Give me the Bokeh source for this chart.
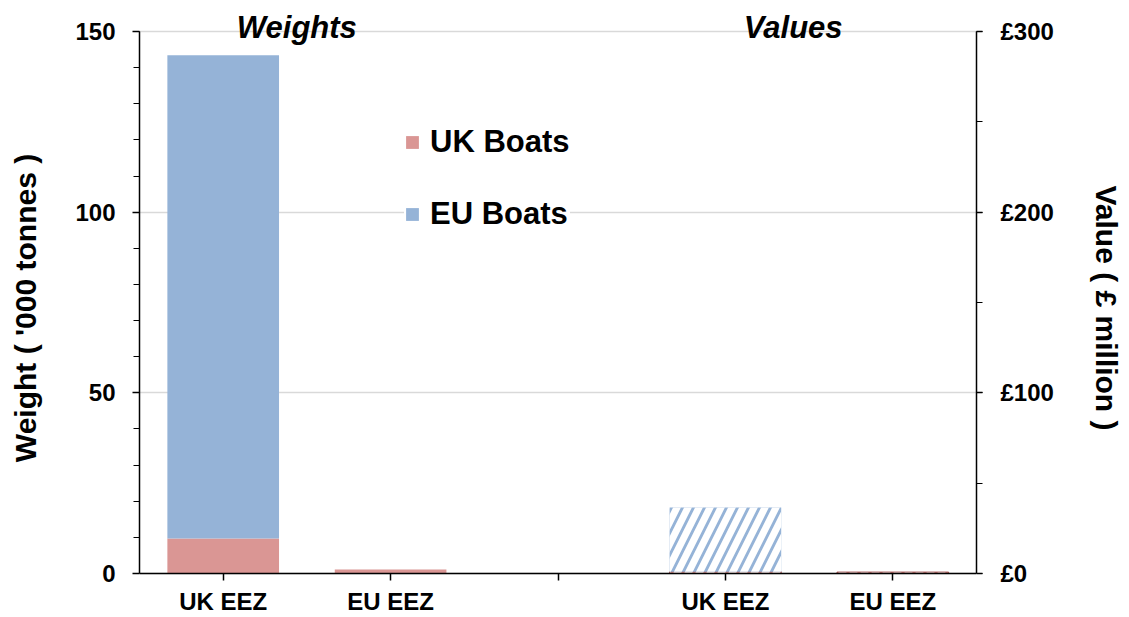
from bokeh.plotting import figure
from bokeh.models import (Range1d, LinearAxis, SingleIntervalTicker, FixedTicker,
                          PrintfTickFormatter, Label, Legend, LegendItem, ColumnDataSource)
from bokeh.embed import file_html
from bokeh.resources import INLINE

# ---- data ----
categories = ["UK EEZ", "EU EEZ"]
weight_uk_boats = [9.7, 1.1]      # '000 tonnes
weight_eu_boats = [133.7, 0.0]
value_uk_boats = [1.0, 0.8]       # £ million
value_eu_boats = [35.5, 0.0]
panel_titles = ["Weights", "Values"]
series_names = ["UK Boats", "EU Boats"]

RED = "#da9694"
BLUE = "#95b3d7"
FONT = "Liberation Sans"

w_pos = [0.5 + i for i in range(len(categories))]
v_pos = [3.5 + i for i in range(len(categories))]

# layout: 150 / £300 at 31px from top, 0 at 573px, figure 615px tall
W_MAX, V_MAX = 150, 300
H = 615
PX = 542 / W_MAX
y_end = W_MAX + 31 / PX
y_start = -(H - 573) / PX

p = figure(width=1125, height=H, output_backend="svg", toolbar_location=None,
           x_range=Range1d(0, 5), y_range=Range1d(y_start, y_end),
           min_border_left=139, min_border_right=147, min_border_top=0, min_border_bottom=0,
           x_axis_location=None, y_axis_location=None)
p.extra_y_ranges = {"val": Range1d(y_start * V_MAX / W_MAX, y_end * V_MAX / W_MAX)}
p.outline_line_color = None
p.background_fill_color = "white"
p.border_fill_color = "white"

src_w = ColumnDataSource(dict(x=w_pos, uk=weight_uk_boats, eu=weight_eu_boats))
src_w.data["top_uk"] = list(weight_uk_boats)
src_w.data["top_eu"] = [a + b for a, b in zip(weight_uk_boats, weight_eu_boats)]
src_v = ColumnDataSource(dict(x=v_pos, uk=value_uk_boats, eu=value_eu_boats))
src_v.data["top_uk"] = list(value_uk_boats)
src_v.data["top_eu"] = [a + b for a, b in zip(value_uk_boats, value_eu_boats)]

W = 0.667
r_uk = p.vbar(x="x", bottom=0, top="top_uk", width=W, source=src_w,
              fill_color=RED, line_color=None)
r_eu = p.vbar(x="x", bottom="top_uk", top="top_eu", width=W, source=src_w,
              fill_color=BLUE, line_color=None)
p.vbar(x="x", bottom=0, top="top_uk", width=W, source=src_v, y_range_name="val",
       fill_color=RED, line_color="#953735", line_width=0.8,
       hatch_pattern="right_diagonal_line", hatch_color="white", hatch_scale=22, hatch_weight=7)
p.vbar(x="x", bottom="top_uk", top="top_eu", width=W, source=src_v, y_range_name="val",
       fill_color=BLUE, line_color=None,
       hatch_pattern="right_diagonal_line", hatch_color="white", hatch_scale=22, hatch_weight=7)

# ---- axes ----
ax_x = LinearAxis(fixed_location=0, ticker=FixedTicker(ticks=[0.5, 1.5, 2.5, 3.5, 4.5]))
ax_x.major_label_overrides = {0.5: categories[0], 1.5: categories[1], 2.5: "",
                              3.5: categories[0], 4.5: categories[1]}
ax_x.major_tick_in = 0
ax_x.major_tick_out = 7
ax_x.major_label_standoff = 7
p.add_layout(ax_x, "below")

ax_l = LinearAxis(ticker=SingleIntervalTicker(interval=50, num_minor_ticks=5), bounds=(0, W_MAX),
                  axis_label="Weight ( '000 tonnes )")
ax_l.major_tick_in = 0
ax_l.major_tick_out = 7
ax_l.minor_tick_in = 0
ax_l.minor_tick_out = 6
ax_l.major_label_standoff = 17
ax_l.axis_label_standoff = 30
p.add_layout(ax_l, "left")

ax_r = LinearAxis(y_range_name="val", ticker=SingleIntervalTicker(interval=100, num_minor_ticks=2),
                  formatter=PrintfTickFormatter(format="£%d"), bounds=(0, V_MAX),
                  axis_label="Value ( £ million )")
ax_r.major_tick_in = 0
ax_r.major_tick_out = 6
ax_r.minor_tick_in = 0
ax_r.minor_tick_out = 6
ax_r.major_label_standoff = 18
ax_r.axis_label_standoff = 33
p.add_layout(ax_r, "right")

for ax in [ax_x, ax_l, ax_r]:
    ax.axis_line_color = "black"
    ax.axis_line_width = 1.5
    ax.major_tick_line_color = "black"
    ax.major_tick_line_width = 1.5
    ax.minor_tick_line_width = 1.2
    ax.minor_tick_line_color = "black"
    ax.major_label_text_font = FONT
    ax.major_label_text_font_style = "bold"
    ax.major_label_text_font_size = "24px"
    ax.major_label_text_color = "black"
    ax.axis_label_text_font = FONT
    ax.axis_label_text_font_style = "bold"
    ax.axis_label_text_font_size = "30px"
    ax.axis_label_text_color = "black"
ax_x.minor_tick_line_color = None
ax_x.major_label_text_font_size = "24px"

p.xgrid.grid_line_color = None
p.ygrid.ticker = SingleIntervalTicker(interval=50)
p.ygrid.bounds = (0, W_MAX)
p.ygrid.grid_line_color = "#d9d9d9"
p.ygrid.grid_line_width = 1.5

# ---- panel titles ----
for txt, xx in zip(panel_titles, [0.94, 3.905]):
    p.add_layout(Label(x=xx, y=W_MAX, text=txt, text_align="center", text_baseline="middle",
                       y_offset=4, text_font=FONT, text_font_style="bold italic",
                       text_font_size="31px", text_color="black"))

# ---- legend ----
legend = Legend(items=[LegendItem(label=series_names[0], renderers=[r_uk]),
                       LegendItem(label=series_names[1], renderers=[r_eu])],
                location=(265, 383), orientation="vertical",
                glyph_width=16, glyph_height=16, label_height=36, spacing=36,
                padding=30, label_standoff=10, border_line_color=None,
                background_fill_color="white", background_fill_alpha=1.0,
                label_text_font=FONT, label_text_font_style="bold",
                label_text_font_size="31px", label_text_color="black")
p.add_layout(legend, "center")

open("out.html", "w").write(file_html(p, INLINE))
